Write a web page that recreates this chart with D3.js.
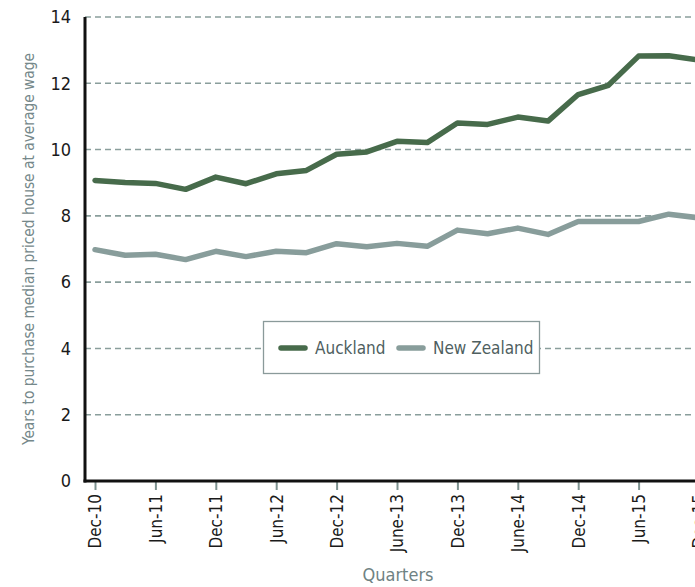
<!DOCTYPE html>
<html>
<head>
<meta charset="utf-8">
<script src="https://cdn.jsdelivr.net/npm/d3@7"></script>
<style>
  html, body { margin: 0; padding: 0; background: #fff; overflow: hidden; }
  svg { display: block; }
  text { font-family: "Liberation Sans Narrow", "DejaVu Sans Condensed", "Roboto Condensed", sans-serif; }
</style>
</head>
<body>
<div id="chart"></div>
<script>
const quarters = ["Dec-10","Mar-11","Jun-11","Sep-11","Dec-11","Mar-12","Jun-12","Sep-12","Dec-12","Mar-13","June-13","Sep-13","Dec-13","Mar-14","June-14","Sep-14","Dec-14","Mar-15","Jun-15","Sep-15","Dec-15"];
const tickLabels = ["Dec-10","Jun-11","Dec-11","Jun-12","Dec-12","June-13","Dec-13","June-14","Dec-14","Jun-15","Dec-15"];
const auckland = [9.07,9.01,8.98,8.80,9.17,8.97,9.27,9.37,9.86,9.93,10.25,10.21,10.80,10.76,10.98,10.86,11.66,11.94,12.82,12.83,12.70];
const newZealand = [6.98,6.81,6.84,6.68,6.93,6.77,6.93,6.89,7.16,7.07,7.17,7.08,7.57,7.46,7.63,7.44,7.83,7.83,7.83,8.05,7.94];
const yTicks = [0,2,4,6,8,10,12,14];
const seriesNames = ["Auckland","New Zealand"];
const seriesColors = ["#476b4b","#889d9b"];

const W = 800, H = 587;
const svg = d3.select("#chart").append("svg").attr("width", W).attr("height", H);

const x = d3.scalePoint().domain(quarters).range([95, 95 + 30.2 * (quarters.length - 1)]);
const y = d3.scaleLinear().domain([0, 14]).range([481, 17]);
const axisLeftX = 85;

// gridlines
svg.append("g").selectAll("line").data(yTicks.filter(d => d > 0)).join("line")
  .attr("x1", axisLeftX).attr("x2", W)
  .attr("y1", d => y(d)).attr("y2", d => y(d))
  .attr("stroke", "#8a9e9c").attr("stroke-width", 1.6)
  .attr("stroke-dasharray", "6,4");

// y axis labels
const yAxis = d3.axisLeft(y).tickValues(yTicks).tickSize(0).tickPadding(0).tickFormat(d3.format("d"));
const gy = svg.append("g").attr("transform", `translate(${axisLeftX - 14},0)`).call(yAxis);
gy.select(".domain").remove();
gy.selectAll("text").attr("font-size", 18).attr("fill", "#1a1a1a")
  .attr("font-family", "'Liberation Sans Narrow', 'DejaVu Sans Condensed', sans-serif");

// x axis
const xAxis = d3.axisBottom(x).tickValues(tickLabels).tickSize(8).tickPadding(6);
const gx = svg.append("g").attr("transform", `translate(0,${y(0) + 1})`).call(xAxis);
gx.select(".domain").remove();
gx.selectAll(".tick line").attr("stroke", "#7d9290").attr("stroke-width", 2);
gx.selectAll("text")
  .attr("font-size", 17).attr("fill", "#1a1a1a")
  .attr("font-family", "'Liberation Sans Narrow', 'DejaVu Sans Condensed', sans-serif")
  .attr("transform", "rotate(-90)")
  .attr("text-anchor", "end")
  .attr("dy", "0.35em")
  .attr("x", -12).attr("y", 0);

// axis lines
svg.append("line").attr("x1", axisLeftX).attr("x2", axisLeftX).attr("y1", y(14)).attr("y2", y(0) + 1.5)
  .attr("stroke", "#111").attr("stroke-width", 3);
svg.append("line").attr("x1", axisLeftX - 1.5).attr("x2", W).attr("y1", y(0)).attr("y2", y(0))
  .attr("stroke", "#111").attr("stroke-width", 3);

// lines
const line = d3.line().x((d, i) => x(quarters[i])).y(d => y(d));
[auckland, newZealand].forEach((vals, k) => {
  svg.append("path").datum(vals).attr("d", line)
    .attr("fill", "none").attr("stroke", seriesColors[k])
    .attr("stroke-width", 5.5).attr("stroke-linejoin", "round").attr("stroke-linecap", "round");
});

// axis titles
svg.append("text").attr("transform", `translate(34,${(y(0) + y(14)) / 2}) rotate(-90)`)
  .attr("text-anchor", "middle").attr("font-size", 16).attr("fill", "#75888a")
  .attr("textLength", 392).attr("lengthAdjust", "spacingAndGlyphs")
  .text("Years to purchase median priced house at average wage");
svg.append("text").attr("x", 398).attr("y", 581)
  .attr("text-anchor", "middle").attr("font-size", 18).attr("fill", "#6f8283")
  .text("Quarters");

// legend
const lg = svg.append("g");
lg.append("rect").attr("x", 263.5).attr("y", 321.5).attr("width", 276).attr("height", 52)
  .attr("fill", "#fff").attr("stroke", "#8a9a9a").attr("stroke-width", 1.3);
const legendPos = [{lx: 281, tx: 315}, {lx: 399, tx: 433}];
seriesNames.forEach((name, k) => {
  lg.append("line").attr("x1", legendPos[k].lx).attr("x2", legendPos[k].lx + 24)
    .attr("y1", 348).attr("y2", 348)
    .attr("stroke", seriesColors[k]).attr("stroke-width", 5.5).attr("stroke-linecap", "round");
  lg.append("text").attr("x", legendPos[k].tx).attr("y", 348).attr("dy", "0.35em")
    .attr("font-size", 17).attr("fill", "#4f5f5f").text(name);
});
</script>
</body>
</html>
